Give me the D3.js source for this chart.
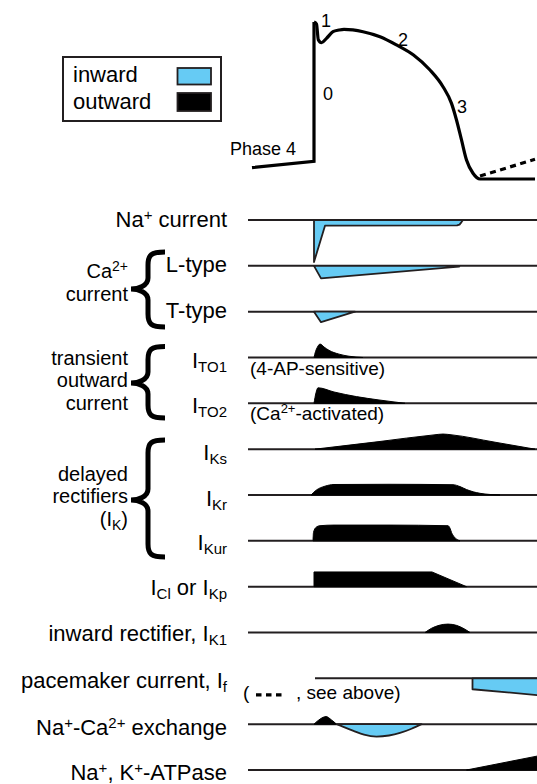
<!DOCTYPE html>
<html><head><meta charset="utf-8">
<script src="https://cdn.jsdelivr.net/npm/d3@7"></script>
<style>
html,body{margin:0;padding:0;background:#fff;}
svg{display:block;font-family:"Liberation Sans",Arial,Helvetica,sans-serif;}
</style></head><body>
<svg id="c" width="537" height="784"></svg>
<script>
// ---------------- DATA ----------------
// Action potential: time (ms, 0 = upstroke) vs membrane voltage (mV)
const apPhase4Upstroke = [[-124,-76.7],[0,-72],[0,30]];
const apPlateau = [[0,30],[5,28.5],[8.6,17],[15,14.8],[25,18],[38,22.9],[50,24.1],[60,24.6],[98,22.9],
  [132,19.2],[165,13.2],[199,5.8],[232,-5.2],[258,-17.4],[275,-29.6],[285,-41.8],[295,-56.4],
  [305,-71.1],[318,-80.8],[332,-85],[442,-85]];
const apPacemakerDash = [[332,-82.8],[442,-70.6]];
const apPhaseLabels = [
  {text:"1", t:14, v:26.3, anchor:"start"},
  {text:"0", t:18, v:-27.1, anchor:"start"},
  {text:"2", t:168, v:12.4, anchor:"start"},
  {text:"3", t:286, v:-36.6, anchor:"start"},
  {text:"Phase 4", t:-36, v:-67.4, anchor:"end"}
];

// Currents: time (ms) vs relative amplitude (outward > 0, inward < 0)
const rowKeys = ["Na","CaL","CaT","TO1","TO2","Ks","Kr","Kur","Cl","K1","f","NaCa","NaK"];
const iNa   = [[0,0],[0,-1],[22,-0.135],[286,-0.13],[291,-0.11],[295,-0.05],[298,0]];
const iCaL  = [[0,0],[14,-0.3],[290,-0.02],[291,0]];
const iCaT  = [[0,0],[14,-0.25],[82,0]];
const iTO1  = [[0,0],[3,0.14],[7,0.25],[12,0.32],[20,0.25],[30,0.17],[50,0.08],[70,0.03],[98,0]];
const iTO2  = [[0,0],[4,0.25],[8,0.37],[40,0.27],[85,0.16],[130,0.08],[182,0]];
const iKs   = [[2,0],[130,0.18],[240,0.34],[258,0.36],[276,0.34],[360,0.17],[442,0]];
const iKr   = [[-6,0],[5,0.12],[22,0.21],[40,0.25],[150,0.255],[278,0.245],[292,0.2],[305,0.13],[332,0.04],[372,0]];
const iKur  = [[-2,0],[-1,0.2],[4,0.32],[12,0.36],[40,0.375],[150,0.375],[268,0.36],[272,0.3],[275,0.2],[280,0.1],[292,0]];
const iCl   = [[0,0],[0,0.35],[236,0.35],[305,0]];
const iK1   = [[222,0],[235,0.1],[250,0.17],[268,0.2],[285,0.17],[300,0.09],[312,0]];
const iF    = [[317,0],[317,-0.26],[448,-0.4],[448,0]];
const iNaCaOut = [[0,0],[12,0.12],[24,0.18],[35,0.1],[45,0]];
const iNaCaIn  = [[46,0],[60,-0.07],[79,-0.16],[100,-0.25],[125,-0.295],[150,-0.27],[172,-0.21],[195,-0.11],[215,0]];
const iNaK  = [[305,0],[448,0.335],[448,0]];

const currentShapes = [
  {row:"Na",  data:iNa,  kind:"in",  smooth:false},
  {row:"CaL", data:iCaL, kind:"in",  smooth:false},
  {row:"CaT", data:iCaT, kind:"in",  smooth:false},
  {row:"TO1", data:iTO1, kind:"out", smooth:true},
  {row:"TO2", data:iTO2, kind:"out", smooth:true},
  {row:"Ks",  data:iKs,  kind:"out", smooth:true},
  {row:"Kr",  data:iKr,  kind:"out", smooth:true},
  {row:"Kur", data:iKur, kind:"out", smooth:true},
  {row:"Cl",  data:iCl,  kind:"out", smooth:false},
  {row:"K1",  data:iK1,  kind:"out", smooth:true},
  {row:"f",   data:iF,   kind:"in",  smooth:false},
  {row:"NaCa",data:iNaCaOut, kind:"out", smooth:true},
  {row:"NaCa",data:iNaCaIn,  kind:"in",  smooth:true},
  {row:"NaK", data:iNaK, kind:"out", smooth:false}
];
const rowLineStart = {f:2}; // pacemaker trace starts at upstroke

const rowLabels = [
  [["Na"],["+","sup"],[" current"]],
  [["L-type"]],
  [["T-type"]],
  [["I"],["TO1","sub"]],
  [["I"],["TO2","sub"]],
  [["I"],["Ks","sub"]],
  [["I"],["Kr","sub"]],
  [["I"],["Kur","sub"]],
  [["I"],["Cl","sub"],[" or I"],["Kp","sub"]],
  [["inward rectifier, I"],["K1","sub"]],
  [["pacemaker current, I"],["f","sub"]],
  [["Na"],["+","sup"],["-Ca"],["2+","sup"],[" exchange"]],
  [["Na"],["+","sup"],[", K"],["+","sup"],["-ATPase"]]
];
const groupLabels = [
  [[["Ca"],["2+","sup"]],[["current"]]],
  [[["transient"]],[["outward"]],[["current"]]],
  [[["delayed"]],[["rectifiers"]],[["(I"],["K","sub"],[")"]]]
];
const legendItems = [{label:"inward",kind:"in"},{label:"outward",kind:"out"}];

// ---------------- LAYOUT ----------------
const INK = "#231f20", BLUE = "#66cbf4";
const labelDy = [6.5,6.5,6,10.8,10,10.8,10.7,9.2,8.3,8.5,10,10.8,10];
const groupLayout = [
  {y0:252, ym:289, y1:327, lines:[278,300.5]},
  {y0:346.5, ym:383, y1:418, lines:[364.5,387,409.5]},
  {y0:440, ym:500, y1:557, lines:[480.5,503,525.5]}
];

const svg = d3.select("#c");
const x = d3.scaleLinear().domain([-132, 446]).range([248, 537]);
const yV = d3.scaleLinear().domain([-85, 30]).range([179, 22]);
const rowY = d3.scalePoint().domain(rowKeys).range([220, 770]);
const amp = d3.scaleLinear().domain([-1, 1]).range([42, -42]);

const SHIFT = {sup:-7, sub:4};
function rich(textSel, parts, big, small) {
  let shift = 0;
  parts.forEach(p => {
    const kind = p[1];
    const target = SHIFT[kind] || 0;
    textSel.append("tspan").text(p[0]).attr("dy", target - shift)
      .attr("font-size", kind ? small : big);
    shift = target;
  });
}

// ---- Action potential ----
const apLin = d3.line().x(d => x(d[0])).y(d => yV(d[1]));
const apSmooth = d3.line().x(d => x(d[0])).y(d => yV(d[1])).curve(d3.curveMonotoneX);
svg.append("path").attr("d", apLin(apPhase4Upstroke))
  .attr("fill","none").attr("stroke","#000").attr("stroke-width",3.2).attr("stroke-linejoin","miter");
svg.append("path").attr("d", apSmooth(apPlateau))
  .attr("fill","none").attr("stroke","#000").attr("stroke-width",3.2).attr("stroke-linejoin","round");
svg.append("path").attr("d", apLin(apPacemakerDash))
  .attr("fill","none").attr("stroke","#000").attr("stroke-width",3.2).attr("stroke-dasharray","6,4.5");
svg.selectAll("text.ap").data(apPhaseLabels).join("text").attr("class","ap")
  .attr("x", d => x(d.t)).attr("y", d => yV(d.v)).attr("text-anchor", d => d.anchor)
  .attr("font-size", 18).attr("fill","#000").text(d => d.text);

// ---- Legend ----
const lg = svg.append("g");
lg.append("rect").attr("x",63).attr("y",57).attr("width",158).attr("height",64)
  .attr("fill","none").attr("stroke",INK).attr("stroke-width",2);
legendItems.forEach((d,i) => {
  lg.append("text").attr("x",73).attr("y",82 + i*26.5).attr("font-size",22).text(d.label);
  lg.append("rect").attr("x",177.5).attr("y",68 + i*25).attr("width",33.5).attr("height",16.5 + i*1.5)
    .attr("fill", d.kind === "in" ? BLUE : "#000").attr("stroke",INK).attr("stroke-width",1.8);
});

// ---- Current rows ----
svg.selectAll("line.base").data(rowKeys).join("line").attr("class","base")
  .attr("x1", k => x(rowLineStart[k] !== undefined ? rowLineStart[k] : -132))
  .attr("x2", x(446)).attr("y1", k => rowY(k)).attr("y2", k => rowY(k))
  .attr("stroke", INK).attr("stroke-width", 2);

currentShapes.forEach(s => {
  const base = rowY(s.row);
  const gen = d3.line().x(d => x(d[0])).y(d => base + amp(d[1]))
    .curve(s.smooth ? d3.curveMonotoneX : d3.curveLinear);
  svg.append("path").attr("d", gen(s.data) + "Z")
    .attr("fill", s.kind === "in" ? BLUE : "#000")
    .attr("stroke", s.kind === "in" ? INK : "#000")
    .attr("stroke-width", s.kind === "in" ? 1.8 : 1)
    .attr("stroke-linejoin","round");
});

// row labels
rowLabels.forEach((parts, i) => {
  const t = svg.append("text").attr("x", 227).attr("y", rowY(rowKeys[i]) + labelDy[i])
    .attr("text-anchor","end").attr("fill","#000");
  rich(t, parts, 22, 15);
});

// notes under transient outward rows
const n1 = svg.append("text").attr("x", 250).attr("y", rowY("TO1") + 17.5);
rich(n1, [["(4-AP-sensitive)"]], 19, 13);
const n2 = svg.append("text").attr("x", 250).attr("y", rowY("TO2") + 16.7);
rich(n2, [["(Ca"],["2+","sup"],["-activated)"]], 19, 13);

// pacemaker note
const fy = rowY("f");
svg.append("text").attr("x",243).attr("y", fy + 21).attr("font-size",19).text("(");
svg.append("line").attr("x1",256).attr("x2",283).attr("y1",fy+16.5).attr("y2",fy+16.5)
  .attr("stroke","#000").attr("stroke-width",3.4).attr("stroke-dasharray","5.5,4.5");
svg.append("text").attr("x",296).attr("y", fy + 21).attr("font-size",19).text(", see above)");

// group labels and braces
function bracePath(xTip, xSpine, xEnd, y0, ym, y1) {
  return `M${xEnd},${y0} C${xSpine+3},${y0} ${xSpine},${y0+3} ${xSpine},${y0+13}`
    + ` L${xSpine},${ym-11} C${xSpine},${ym-3} ${xTip+7},${ym} ${xTip},${ym}`
    + ` C${xTip+7},${ym} ${xSpine},${ym+3} ${xSpine},${ym+11}`
    + ` L${xSpine},${y1-13} C${xSpine},${y1-3} ${xSpine+3},${y1} ${xEnd},${y1}`;
}
groupLabels.forEach((lines, gi) => {
  const L = groupLayout[gi];
  lines.forEach((parts, li) => {
    const t = svg.append("text").attr("x",128).attr("y",L.lines[li]).attr("text-anchor","end").attr("fill","#000");
    rich(t, parts, 20, 14);
  });
  svg.append("path").attr("d", bracePath(131, 148, 165, L.y0, L.ym, L.y1))
    .attr("fill","none").attr("stroke","#000").attr("stroke-width",5);
});
</script>
</body></html>
